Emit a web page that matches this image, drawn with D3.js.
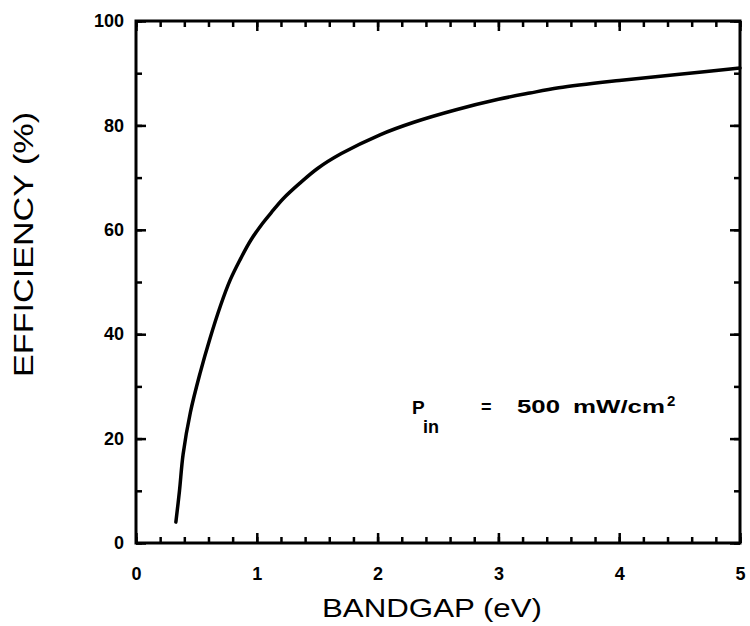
<!DOCTYPE html>
<html><head><meta charset="utf-8">
<script src="https://cdn.jsdelivr.net/npm/d3@7"></script>
<style>body{margin:0;background:#fff}svg{display:block}</style>
</head><body>
<script>
const bandgap = [0.33,0.36,0.39,0.45,0.53,0.61,0.70,0.78,0.86,0.95,1.05,1.12,1.22,1.36,1.50,1.70,2.02,2.30,2.65,3.00,3.26,3.50,4.00,4.50,5.00];
const efficiency = [4,10,17,25,32.5,39,45.5,50.4,54.2,58,61.3,63.3,66,69,71.7,74.6,78.2,80.6,83,85,86.2,87.2,88.6,89.8,91];
const xTicks = [0,1,2,3,4,5];
const yTicks = [0,20,40,60,80,100];

const W=750,H=626;
const m={left:136,right:10,top:21,bottom:83};
const svg=d3.select("body").append("svg").attr("width",W).attr("height",H);
const x=d3.scaleLinear().domain([0,5]).range([m.left,W-m.right]);
const y=d3.scaleLinear().domain([0,100]).range([H-m.bottom,m.top]);
const font="'Liberation Sans', Arial, sans-serif";

svg.append("rect").attr("x",x(0)).attr("y",y(100)).attr("width",x(5)-x(0)).attr("height",y(0)-y(100))
  .attr("fill","none").attr("stroke","#000").attr("stroke-width",3);

const minorX=d3.range(0,5.0001,0.2);
const minorY=d3.range(0,100.001,10);
function axisStyle(g){g.select(".domain").remove();g.selectAll("line").attr("stroke","#000").attr("stroke-width",2.5);
  g.selectAll("text").attr("font-family",font).attr("font-weight","bold").attr("font-size",18).attr("fill","#000");}

svg.append("g").attr("transform",`translate(0,${y(0)})`).call(d3.axisBottom(x).tickValues(minorX).tickSize(-6).tickFormat("")).call(axisStyle);
svg.append("g").attr("transform",`translate(0,${y(0)})`).call(d3.axisBottom(x).tickValues(xTicks).tickSize(-10).tickPadding(24).tickFormat(d3.format("d"))).call(axisStyle);
svg.append("g").attr("transform",`translate(0,${y(100)})`).call(d3.axisTop(x).tickValues(minorX).tickSize(-6).tickFormat("")).call(axisStyle);
svg.append("g").attr("transform",`translate(0,${y(100)})`).call(d3.axisTop(x).tickValues(xTicks).tickSize(-10).tickFormat("")).call(axisStyle);
svg.append("g").attr("transform",`translate(${x(0)},0)`).call(d3.axisLeft(y).tickValues(minorY).tickSize(-6).tickFormat("")).call(axisStyle);
svg.append("g").attr("transform",`translate(${x(0)},0)`).call(d3.axisLeft(y).tickValues(yTicks).tickSize(-10).tickPadding(12).tickFormat(d3.format("d"))).call(axisStyle);
svg.append("g").attr("transform",`translate(${x(5)},0)`).call(d3.axisRight(y).tickValues(minorY).tickSize(-6).tickFormat("")).call(axisStyle);
svg.append("g").attr("transform",`translate(${x(5)},0)`).call(d3.axisRight(y).tickValues(yTicks).tickSize(-10).tickFormat("")).call(axisStyle);

const pts=bandgap.map((b,i)=>[b,efficiency[i]]);
svg.append("path").datum(pts).attr("fill","none").attr("stroke","#000").attr("stroke-width",3.5)
  .attr("stroke-linecap","round")
  .attr("d",d3.line().x(d=>x(d[0])).y(d=>y(d[1])).curve(d3.curveCatmullRom.alpha(0.5)));

svg.append("text").attr("x",322).attr("y",617).attr("textLength",220).attr("lengthAdjust","spacingAndGlyphs")
  .attr("font-family",font).attr("font-size",26).attr("fill","#000").text("BANDGAP  (eV)");
svg.append("text").attr("transform",`translate(33,377) rotate(-90)`).attr("textLength",265).attr("lengthAdjust","spacingAndGlyphs")
  .attr("font-family",font).attr("font-size",27).attr("fill","#000").text("EFFICIENCY (%)");

function ann(tx,ty,s,size,len){
  const t=svg.append("text").attr("x",tx).attr("y",ty).attr("font-family",font).attr("font-weight","bold")
    .attr("font-size",size).attr("fill","#000").text(s);
  if(len) t.attr("textLength",len).attr("lengthAdjust","spacingAndGlyphs");
}
ann(412,414,"P",19);
ann(423,433,"in",18,16);
ann(481,413,"=",18);
ann(517,413,"500",18,43);
ann(573,413,"mW/cm",18,92);
ann(667,406,"2",15);
</script>
</body></html>
